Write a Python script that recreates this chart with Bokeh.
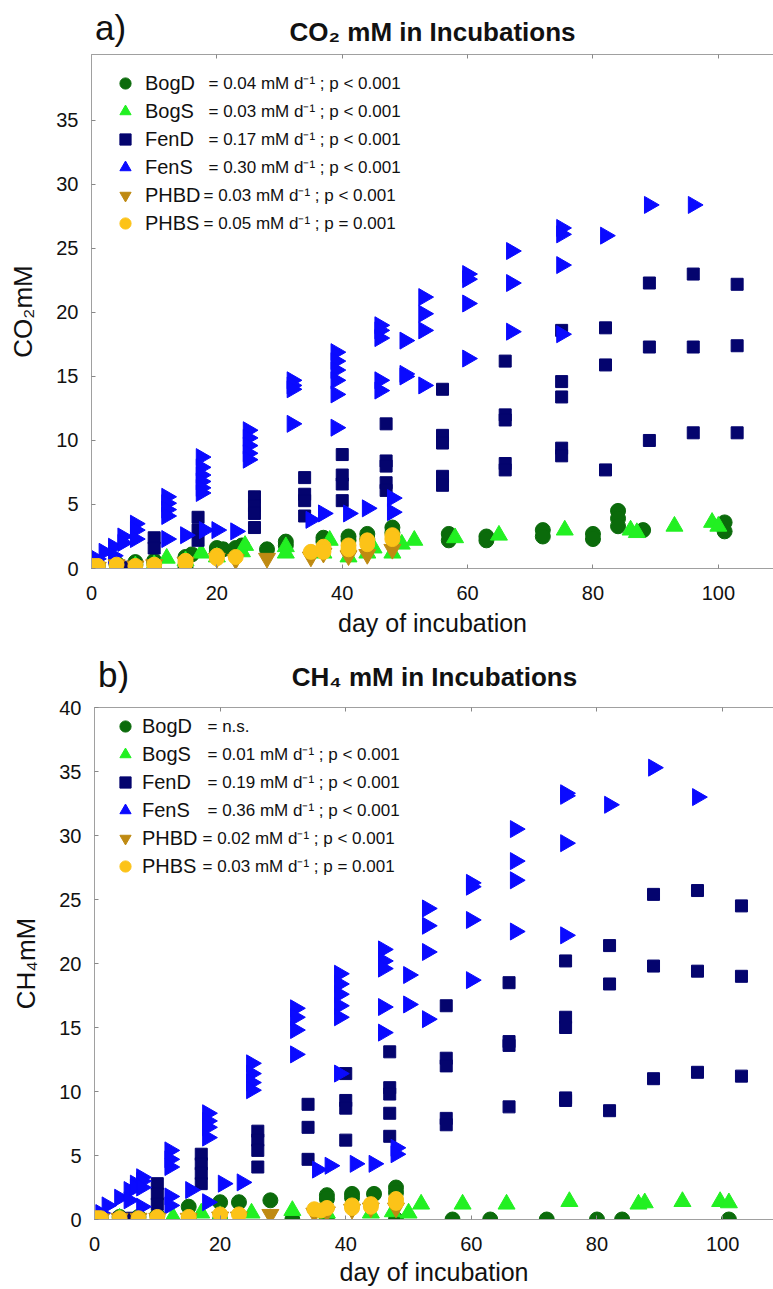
import numpy as np
from bokeh.plotting import figure
from bokeh.models import Range1d, FixedTicker, Legend, LegendItem, Label, LinearAxis
from bokeh.layouts import column
from bokeh.embed import file_html
from bokeh.resources import INLINE

# ---------------- data: panel a (CO2, mM) ----------------
co2_bogd_day = [0, 0.5, 1, 4, 4, 7, 7, 10, 10, 15, 15, 16, 20, 20, 21, 23, 23, 24, 28, 31, 31, 37, 37, 41, 41, 44, 44, 48, 48,
                57, 57, 63, 63, 72, 72, 80, 80, 84, 84, 84, 88, 101, 101]
co2_bogd_val = [0.1, 0.2, 0.2, 0.4, 0.3, 0.5, 0.3, 0.6, 0.4, 0.9, 0.1, 1.1, 1.6, 1.3, 1.5, 1.6, 1.2, 1.8, 1.5, 2.1, 1.8, 2.4, 2.1, 2.5, 2.2, 2.7, 2.3, 3.2, 2.8,
                2.7, 2.2, 2.5, 2.2, 3.0, 2.5, 2.7, 2.3, 4.5, 3.9, 3.3, 3.0, 3.6, 2.9]

co2_bogs_day = [1, 4, 7, 10, 12, 15, 17.5, 20, 24, 24.5, 31, 31, 37, 38, 41, 44, 45, 48, 49.5, 51.5, 58, 65, 75.5, 86, 87, 93, 99, 100]
co2_bogs_val = [0.1, 0.2, 0.2, 0.3, 0.8, 0.6, 1.2, 0.9, 1.3, 1.8, 1.7, 1.2, 1.2, 2.2, 0.9, 1.2, 1.6, 1.2, 1.9, 2.2, 2.4, 2.6, 3.0, 3.0, 2.8, 3.3, 3.6, 3.3]

co2_fend_day = [0, 1, 4, 6, 10, 10, 17, 17, 17, 26, 26, 26, 26, 34, 34, 34, 34, 40, 40, 40, 40, 47, 47, 47, 47, 47,
                56, 56, 56, 56, 56, 66, 66, 66, 66, 66, 75, 75, 75, 75, 75, 82, 82, 82, 89, 89, 89, 96, 96, 96, 103, 103, 103]
co2_fend_val = [0.1, 0.1, 0.1, 0.1, 2.4, 1.6, 4.0, 3.0, 2.2, 5.6, 4.9, 4.3, 3.2, 7.1, 5.8, 5.3, 4.1, 8.9, 7.3, 6.6, 5.3, 11.3, 8.4, 8.0, 6.7, 6.1,
                14.0, 10.4, 9.8, 7.2, 6.5, 16.2, 12.0, 11.6, 8.2, 7.7, 18.6, 14.6, 13.4, 9.4, 8.8, 18.8, 15.9, 7.7, 22.3, 17.3, 10.0, 23.0, 17.3, 10.6, 22.2, 17.4, 10.6]

co2_fens_day = [0, 0.8, 2, 3.5, 3.5, 5, 5, 7, 7, 7, 12, 12, 12, 12, 12, 15, 17.5, 17.5, 17.5, 17.5, 17.5, 17.5, 18, 20, 23,
                25, 25, 25, 25, 25, 32, 32, 32, 32, 35, 37, 39, 39, 39, 39, 39, 39, 41, 44, 46, 46, 46, 46, 46, 48, 48,
                50, 50, 50, 53, 53, 53, 53, 60, 60, 60, 60, 67, 67, 67, 75, 75, 75, 75, 82, 89, 96]
co2_fens_val = [0.3, 0.75, 1.3, 1.7, 1.0, 2.5, 2.0, 3.5, 3.0, 2.3, 5.6, 5.1, 4.6, 4.1, 2.3, 2.6, 8.7, 7.9, 7.3, 6.8, 6.3, 5.9, 3.0, 3.0, 2.9,
                10.8, 10.2, 9.6, 9.0, 8.5, 14.7, 14.3, 14.0, 11.3, 3.8, 4.3, 16.9, 16.2, 15.5, 14.7, 13.6, 11.0, 4.3, 4.7, 19.0, 18.6, 18.0, 14.7, 13.9, 5.5, 4.4,
                17.8, 15.2, 15.0, 21.2, 19.9, 18.6, 14.3, 23.0, 22.6, 20.7, 16.4, 24.8, 22.3, 18.5, 26.6, 26.1, 23.7, 18.3, 26.0, 28.4, 28.4]

co2_phbd_day = [0, 1, 4, 7, 10, 15, 20, 23, 28, 35, 37, 41, 44, 48]
co2_phbd_val = [0.1, 0.1, 0.3, 0.2, 0.3, 0.5, 0.8, 0.7, 0.8, 0.9, 1.2, 1.0, 1.1, 1.5]

co2_phbs_day = [0, 0.3, 1, 4, 7, 10, 15, 15, 20, 20, 23, 35, 37, 37, 41, 41, 44, 44, 48, 48]
co2_phbs_val = [0.1, 0.2, 0.2, 0.3, 0.2, 0.3, 0.6, 0.4, 1.0, 0.8, 0.9, 1.3, 1.7, 1.3, 1.8, 1.5, 2.2, 1.9, 2.6, 2.3]

co2_stats = ["= 0.04 mM d\u207b\u00b9 ; p < 0.001", "= 0.03 mM d\u207b\u00b9 ; p < 0.001",
             "= 0.17 mM d\u207b\u00b9 ; p < 0.001", "= 0.30 mM d\u207b\u00b9 ; p < 0.001",
             "= 0.03 mM d\u207b\u00b9 ; p < 0.001", "= 0.05 mM d\u207b\u00b9 ; p = 0.001"]

# ---------------- data: panel b (CH4, mM) ----------------
ch4_bogd_day = [0, 1, 4, 7, 10, 15, 15, 20, 20, 23, 28, 31.5, 37, 37, 37, 41, 41, 44.5, 48, 48, 48, 57, 63, 72, 80, 84, 101]
ch4_bogd_val = [0.1, 0.1, 0.2, 0.2, 0.3, 1.0, 0.0, 1.35, 0.0, 1.35, 1.5, 0.0, 1.9, 1.6, 0.0, 2.0, 1.7, 2.0, 2.5, 2.1, 0.0, 0.0, 0.0, 0.0, 0.0, 0.0, 0.0]

ch4_bogs_day = [1, 4, 7, 10, 12.5, 17, 20, 25, 31.5, 37, 44, 47.5, 50, 52, 58.6, 65.6, 75.6, 86.6, 87.6, 93.6, 99.6, 101]
ch4_bogs_val = [0.05, 0.1, 0.1, 0.15, 0.2, 0.5, 0.3, 0.5, 0.7, 0.5, 0.5, 0.6, 0.5, 1.2, 1.2, 1.2, 1.4, 1.2, 1.3, 1.4, 1.4, 1.3]

ch4_fend_day = [0, 1, 4, 6, 10, 10, 10, 17, 17, 17, 17, 26, 26, 26, 26, 34, 34, 34, 40, 40, 40, 40, 47, 47, 47, 47, 47,
                56, 56, 56, 56, 56, 66, 66, 66, 66, 75, 75, 75, 75, 75, 82, 82, 82, 89, 89, 89, 96, 96, 96, 103, 103, 103]
ch4_fend_val = [0.1, 0.1, 0.1, 0.1, 2.8, 2.0, 1.2, 5.1, 4.35, 3.6, 2.8, 6.9, 6.2, 5.4, 4.1, 9.0, 7.2, 4.7, 11.4, 9.3, 8.7, 6.2, 13.1, 10.3, 9.8, 8.3, 6.5,
                16.7, 12.6, 12.0, 7.9, 7.4, 18.5, 13.9, 13.6, 8.8, 20.2, 15.8, 15.0, 9.5, 9.3, 21.4, 18.4, 8.5, 25.4, 19.8, 11.0, 25.7, 19.4, 11.5, 24.5, 19.0, 11.2]

ch4_fens_day = [0, 1, 2, 4, 5.5, 5.5, 6.5, 6.5, 7.5, 7.5, 7.5, 7.5, 12, 12, 12, 12, 12, 15.3, 18, 18, 18, 18, 18, 20.5, 23.5,
                25, 25, 25, 25, 32, 32, 32, 32, 35.5, 37.5, 39, 39, 39, 39, 39, 39, 41.5, 44.5, 46, 46, 46, 46, 46, 48, 48,
                50, 50, 53, 53, 53, 53, 60, 60, 60, 60, 67, 67, 67, 67, 75, 75, 75, 75, 82, 89, 96]
ch4_fens_val = [0.2, 0.5, 1.1, 1.7, 2.3, 1.5, 2.8, 2.5, 3.3, 3.0, 2.5, 1.0, 5.4, 4.7, 4.1, 1.8, 1.1, 2.3, 8.3, 7.7, 7.2, 6.4, 1.35, 2.8, 2.9,
                12.2, 11.4, 10.7, 10.1, 16.5, 15.8, 14.8, 12.9, 3.9, 4.2, 19.2, 18.4, 17.6, 16.7, 15.8, 11.4, 4.35, 4.35, 21.1, 20.2, 19.6, 16.6, 14.6, 5.6, 5.1,
                19.1, 16.8, 24.3, 22.95, 20.9, 15.65, 26.3, 26.0, 23.4, 18.7, 30.5, 28.0, 26.5, 22.5, 33.3, 33.1, 29.4, 22.2, 32.4, 35.3, 33.0]

ch4_phbd_day = [0, 1, 4, 7, 10, 15, 20, 23, 28, 35, 37, 41, 44, 48]
ch4_phbd_val = [0.05, 0.05, 0.1, 0.1, 0.1, 0.1, 0.2, 0.2, 0.4, 0.5, 0.6, 0.8, 0.9, 0.9]

ch4_phbs_day = [0, 0.5, 1, 4, 7, 10, 15, 20, 23, 35, 36, 37, 41, 41, 44, 44, 48, 48]
ch4_phbs_val = [0.1, 0.1, 0.1, 0.1, 0.1, 0.2, 0.2, 0.4, 0.4, 0.8, 0.7, 0.9, 1.1, 0.9, 1.2, 1.0, 1.6, 1.3]

ch4_stats = ["= n.s.", "= 0.01 mM d\u207b\u00b9 ; p < 0.001",
             "= 0.19 mM d\u207b\u00b9 ; p < 0.001", "= 0.36 mM d\u207b\u00b9 ; p < 0.001",
             "= 0.02 mM d\u207b\u00b9 ; p < 0.001", "= 0.03 mM d\u207b\u00b9 ; p = 0.001"]

series_names = ["BogD", "BogS", "FenD", "FenS", "PHBD", "PHBS"]
x_ticks = [0, 20, 40, 60, 80, 100]
y_ticks_a = [0, 5, 10, 15, 20, 25, 30, 35]
y_ticks_b = [0, 5, 10, 15, 20, 25, 30, 35, 40]

# ---------------- styles ----------------
COLORS = {"BogD": "#0b6b0b", "BogS": "#22f022", "FenD": "#04046e", "FenS": "#0a0aff",
          "PHBD": "#bf8a12", "PHBS": "#fcc318"}
MARKERS = {"BogD": "circle", "BogS": "triangle", "FenD": "square", "FenS": "triangle",
           "PHBD": "inverted_triangle", "PHBS": "circle"}
SIZES = {"BogD": 15, "BogS": 17, "FenD": 12, "FenS": 17, "PHBD": 17, "PHBS": 15}
ANGLES = {"BogD": 0, "BogS": 0, "FenD": 0, "FenS": -np.pi / 2, "PHBD": 0, "PHBS": 0}

FONT = "Liberation Sans"
AXIS_GRAY = "#a0a0a0"
W = 773


def title_fig(height, title, tag, title_x, title_y, tag_x, tag_y):
    f = figure(width=W, height=height, x_range=Range1d(0, W), y_range=Range1d(0, height),
               output_backend="svg", toolbar_location=None, title=None,
               x_axis_type=None, y_axis_type=None, min_border=0,
               min_border_left=0, min_border_right=0, min_border_top=0, min_border_bottom=0)
    f.frame_align = False
    f.outline_line_color = None
    f.background_fill_color = "white"
    f.border_fill_color = "white"
    f.add_layout(Label(x=title_x, y=title_y, text=title, text_font=FONT, text_font_size="26px",
                       text_font_style="bold", text_align="center", text_baseline="middle",
                       text_color="#111111"))
    f.add_layout(Label(x=tag_x, y=tag_y, text=tag, text_font=FONT, text_font_size="35px",
                       text_align="center", text_baseline="middle", text_color="#111111"))
    return f


def make_panel(data, stats, ylabel, yticks, ymax, xmax, height,
               border_left, border_top, border_bottom, ylab_standoff,
               xtick_standoff, xlab_standoff, legend_top, legend_x, label_standoff, eq_x):
    p = figure(width=W, height=height, x_range=Range1d(0, xmax), y_range=Range1d(0, ymax),
               output_backend="svg", toolbar_location=None, title=None,
               min_border_left=border_left, min_border_right=0,
               min_border_top=border_top, min_border_bottom=border_bottom)
    p.frame_align = False
    p.grid.visible = False
    p.outline_line_color = None
    p.background_fill_color = "white"
    p.border_fill_color = "white"

    for ax, ticks in ((p.xaxis[0], x_ticks), (p.yaxis[0], yticks)):
        ax.ticker = FixedTicker(ticks=ticks)
        ax.axis_line_color = AXIS_GRAY
        ax.major_tick_line_color = "#888888"
        ax.major_tick_in = 4
        ax.major_tick_out = 0
        ax.minor_tick_line_color = None
        ax.major_label_text_font = FONT
        ax.major_label_text_font_size = "20px"
        ax.major_label_text_color = "#111111"
        ax.axis_label_text_font = FONT
        ax.axis_label_text_font_style = "normal"
        ax.axis_label_text_color = "#111111"
    p.xaxis.axis_label = "day of incubation"
    p.xaxis.axis_label_text_font_size = "25px"
    p.xaxis.major_label_standoff = xtick_standoff
    p.xaxis.axis_label_standoff = xlab_standoff
    p.yaxis.axis_label = ylabel
    p.yaxis.axis_label_text_font_size = "26px"
    p.yaxis.major_label_standoff = 13
    p.yaxis.axis_label_standoff = ylab_standoff

    # top frame line with small inward ticks (no labels drawn)
    top_axis = LinearAxis(ticker=FixedTicker(ticks=x_ticks), axis_line_color=AXIS_GRAY,
                          major_tick_in=4, major_tick_out=0, major_tick_line_color="#888888",
                          minor_tick_line_color=None, major_label_text_font_size="1px",
                          major_label_text_color=None, major_label_standoff=0)
    p.add_layout(top_axis, "above")

    items = []
    for name in series_names:
        xs, ys = data[name]
        r = p.scatter(x=xs, y=ys, marker=MARKERS[name], size=SIZES[name], angle=ANGLES[name],
                      fill_color=COLORS[name], line_color=COLORS[name], line_width=1)
        items.append(LegendItem(label=name, renderers=[r]))

    frame_h = height - border_top - border_bottom
    gh = 28
    n = len(items)
    leg_h = n * gh
    legend = Legend(items=items, location=(legend_x, frame_h - legend_top - leg_h),
                    orientation="vertical", glyph_width=gh, glyph_height=gh, spacing=0,
                    padding=0, margin=0, label_standoff=label_standoff, label_height=20,
                    label_text_font=FONT, label_text_font_size="20px", label_text_color="#111111",
                    border_line_alpha=0, background_fill_alpha=0)
    p.add_layout(legend)

    for i, s in enumerate(stats):
        cy = legend_top + gh / 2 + i * gh
        p.add_layout(Label(x=eq_x[i], y=frame_h - cy, x_units="screen", y_units="screen", text=s,
                           text_font=FONT, text_font_size="17px", text_baseline="middle",
                           text_color="#111111"))
    return p


data_a = {"BogD": (co2_bogd_day, co2_bogd_val), "BogS": (co2_bogs_day, co2_bogs_val),
          "FenD": (co2_fend_day, co2_fend_val), "FenS": (co2_fens_day, co2_fens_val),
          "PHBD": (co2_phbd_day, co2_phbd_val), "PHBS": (co2_phbs_day, co2_phbs_val)}
data_b = {"BogD": (ch4_bogd_day, ch4_bogd_val), "BogS": (ch4_bogs_day, ch4_bogs_val),
          "FenD": (ch4_fend_day, ch4_fend_val), "FenS": (ch4_fens_day, ch4_fens_val),
          "PHBD": (ch4_phbd_day, ch4_phbd_val), "PHBS": (ch4_phbs_day, ch4_phbs_val)}

# layout (page px): title a 0-48 | panel a 48-640 | title b 640-693 | panel b 693-1289
ta = title_fig(48, "CO\u2082 mM in Incubations", "a)", 432, 17, 110, 21)
pa = make_panel(data_a, co2_stats, "CO\u2082mM", y_ticks_a, 40.15, 108.8, 592,
                91, 6, 72, 15, 17, 6, 15, 20, 6,
                [117, 117, 117, 117, 112, 112])
tb = title_fig(53, "CH\u2084 mM in Incubations", "b)", 434, 17, 113, 19)
pb = make_panel(data_b, ch4_stats, "CH\u2084mM", y_ticks_b, 40.0, 108.1, 596,
                94, 14, 70, 15, 17, 4, 5, 17, 3,
                [113, 113, 113, 113, 108, 108])

layout = column(ta, pa, tb, pb, spacing=0)
open("out.html", "w").write(file_html(layout, INLINE))
